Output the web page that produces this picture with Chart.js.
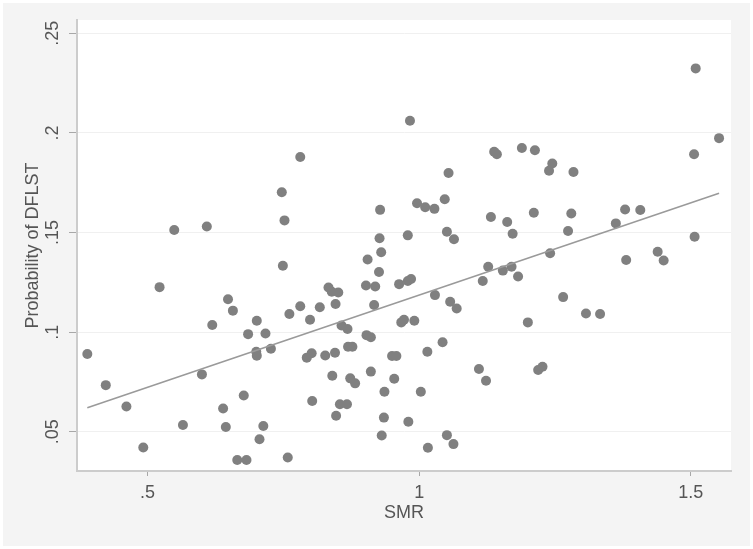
<!DOCTYPE html>
<html>
<head>
<meta charset="utf-8">
<script src="https://cdn.jsdelivr.net/npm/chart.js@4"></script>
<style>
  html, body { margin: 0; padding: 0; background: #ffffff; }
  canvas { display: block; }
</style>
</head>
<body>
<canvas id="myChart" width="753" height="549"></canvas>
<script>
// SMR (x) and probability of DFLST (y)
let smr = [
  0.389, 0.423, 0.461, 0.492, 0.522, 0.549, 0.565, 0.600, 0.609, 0.619,
  0.639, 0.644, 0.648, 0.657, 0.665, 0.677, 0.682, 0.685, 0.701, 0.700,
  0.701, 0.706, 0.713, 0.717, 0.727, 0.747, 0.752, 0.749, 0.758, 0.761,
  0.781, 0.781, 0.793, 0.799, 0.802, 0.803, 0.817, 0.827, 0.833, 0.839,
  0.851, 0.840, 0.845, 0.846, 0.847, 0.854, 0.867, 0.857, 0.868, 0.869,
  0.877, 0.873, 0.882, 0.902, 0.919, 0.905, 0.911, 0.903, 0.911, 0.917,
  0.926, 0.927, 0.928, 0.930, 0.931, 0.936, 0.935, 0.950, 0.958, 0.954,
  0.963, 0.967, 0.972, 0.979, 0.980, 0.979, 0.985, 0.983, 0.991, 0.996,
  1.011, 1.028, 1.003, 1.015, 1.016, 1.029, 1.043, 1.047, 1.051, 1.054,
  1.051, 1.057, 1.069, 1.063, 1.064, 1.110, 1.117, 1.123, 1.127, 1.132,
  1.138, 1.143, 1.154, 1.162, 1.170, 1.172, 1.182, 1.189, 1.213, 1.200,
  1.211, 1.219, 1.227, 1.239, 1.245, 1.241, 1.265, 1.274, 1.280, 1.284,
  1.307, 1.333, 1.362, 1.379, 1.381, 1.407, 1.439, 1.450, 1.506, 1.507,
  1.509, 1.552
];
let prob = [
  0.0890, 0.0734, 0.0627, 0.0421, 0.1226, 0.1513, 0.0534, 0.0788, 0.1530, 0.1036,
  0.0617, 0.0524, 0.1165, 0.1108, 0.0358, 0.0682, 0.0358, 0.0990, 0.1057, 0.0902,
  0.0882, 0.0462, 0.0529, 0.0993, 0.0917, 0.1702, 0.1561, 0.1333, 0.0371, 0.1091,
  0.1879, 0.1130, 0.0872, 0.1062, 0.0894, 0.0654, 0.1125, 0.0883, 0.1224, 0.1203,
  0.1199, 0.0781, 0.0897, 0.1141, 0.0580, 0.0638, 0.0638, 0.1033, 0.1016, 0.0927,
  0.0927, 0.0768, 0.0743, 0.1234, 0.1229, 0.1365, 0.0802, 0.0985, 0.0974, 0.1136,
  0.1302, 0.1471, 0.1614, 0.1401, 0.0481, 0.0701, 0.0571, 0.0880, 0.0880, 0.0766,
  0.1241, 0.1049, 0.1062, 0.1486, 0.0550, 0.1257, 0.1267, 0.2061, 0.1057, 0.1647,
  0.1627, 0.1619, 0.0701, 0.0902, 0.0420, 0.1186, 0.0949, 0.1667, 0.1504, 0.1799,
  0.0483, 0.1153, 0.1119, 0.0438, 0.1466, 0.0815, 0.1257, 0.0756, 0.1328, 0.1578,
  0.1906, 0.1893, 0.1309, 0.1553, 0.1328, 0.1494, 0.1279, 0.1924, 0.1913, 0.1049,
  0.1599, 0.0810, 0.0826, 0.1810, 0.1847, 0.1396, 0.1176, 0.1508, 0.1596, 0.1804,
  0.1094, 0.1091, 0.1546, 0.1616, 0.1362, 0.1613, 0.1404, 0.1360, 0.1893, 0.1479,
  0.2324, 0.1974
];

// fitted line ends
let fitX = [0.389, 1.552];
let fitY = [0.0620, 0.1697];

let xTicks = [0.5, 1, 1.5];
let yTicks = [0.05, 0.1, 0.15, 0.2, 0.25];

let points = smr.map((v, i) => ({x: v, y: prob[i]}));
let fitLine = fitX.map((v, i) => ({x: v, y: fitY[i]}));

function stataLabel(v) {
  return String(+v.toFixed(2)).replace(/^0\./, '.');
}

const panelBg = {
  id: 'panelBg',
  beforeDraw(chart) {
    const c = chart.ctx;
    const a = chart.chartArea;
    c.save();
    c.fillStyle = '#ffffff';
    c.fillRect(0, 0, chart.width, chart.height);
    c.fillStyle = '#f4f4f4';
    c.fillRect(3, 3, chart.width - 6, chart.height - 6);
    c.fillStyle = '#ffffff';
    c.fillRect(a.left, a.top, a.right - a.left, a.bottom - a.top);
    c.restore();
  }
};

const ctx = document.getElementById('myChart');

new Chart(ctx, {
  type: 'scatter',
  data: {
    datasets: [
      {
        type: 'line',
        data: fitLine,
        borderColor: '#9a9a9a',
        borderWidth: 1.6,
        pointRadius: 0,
        fill: false
      },
      {
        data: points,
        backgroundColor: '#808080',
        borderWidth: 0,
        pointRadius: 5
      }
    ]
  },
  options: {
    responsive: false,
    animation: false,
    layout: { padding: { left: 3, top: 20, right: 22, bottom: 3 } },
    plugins: {
      legend: { display: false },
      tooltip: { enabled: false }
    },
    scales: {
      x: {
        type: 'linear',
        min: 0.37,
        max: 1.574,
        afterBuildTicks: s => { s.ticks = xTicks.map(v => ({value: v})); },
        afterFit: s => { s.height = 75; },
        grid: { display: true, drawOnChartArea: false, tickLength: 5, tickColor: '#a8a8a8' },
        border: { color: '#cccccc', width: 2 },
        ticks: {
          callback: v => stataLabel(v),
          color: '#555555',
          padding: 6,
          maxRotation: 0,
          font: { family: 'Liberation Sans', size: 18 }
        },
        title: {
          display: true,
          text: 'SMR',
          color: '#555555',
          padding: { top: 0, bottom: 22 },
          font: { family: 'Liberation Sans', size: 18 }
        }
      },
      y: {
        type: 'linear',
        min: 0.0303,
        max: 0.2567,
        afterBuildTicks: s => { s.ticks = yTicks.map(v => ({value: v})); },
        afterFit: s => { s.width = 74; },
        grid: { color: '#f0f0f0', tickLength: 8, tickColor: '#a8a8a8' },
        border: { color: '#cccccc', width: 2 },
        ticks: {
          callback: v => stataLabel(v),
          color: '#555555',
          padding: 3,
          minRotation: 90,
          maxRotation: 90,
          crossAlign: 'center',
          font: { family: 'Liberation Sans', size: 18 }
        },
        title: {
          display: true,
          text: 'Probability of DFLST',
          color: '#555555',
          padding: { top: 19, bottom: 0 },
          font: { family: 'Liberation Sans', size: 18 }
        }
      }
    }
  },
  plugins: [panelBg]
});
</script>
</body>
</html>
